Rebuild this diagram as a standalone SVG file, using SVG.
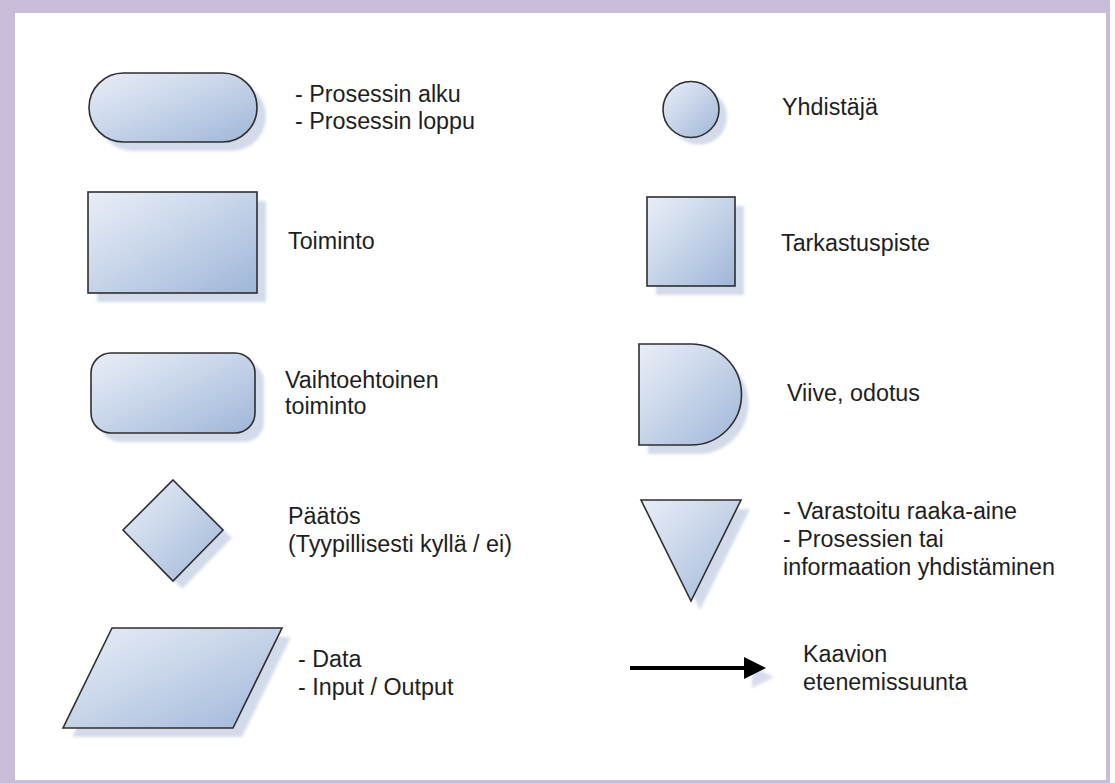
<svg xmlns="http://www.w3.org/2000/svg" width="1115" height="783" viewBox="0 0 1115 783">
  <style>
    .shape { fill: url(#fillGrad); stroke: #2e2e2e; stroke-width: 1.6; }
    .shadow { fill: #d3dbea; filter: url(#soft); }
    .label { font-family: "Liberation Sans", Arial, sans-serif; font-size: 23.3px; fill: #1e1e1e; }
  </style>
  <defs>
    <linearGradient id="fillGrad" x1="0" y1="0" x2="1" y2="1">
      <stop offset="0" stop-color="#e9eef7"/>
      <stop offset="0.45" stop-color="#c9d6ea"/>
      <stop offset="1" stop-color="#9fb6d8"/>
    </linearGradient>
    <filter id="soft" x="-10%" y="-10%" width="120%" height="120%">
      <feGaussianBlur stdDeviation="1.5"/>
    </filter>
  </defs>

  <!-- page frame -->
  <rect x="0" y="0" width="1115" height="783" fill="#fbfbfb"/>
  <rect x="0" y="0" width="1110" height="783" fill="#c9bcd9"/>
  <rect x="15" y="13" width="1091" height="767" fill="#ffffff"/>

  <!-- terminator -->
  <g id="terminator">
    <rect class="shadow" x="98" y="82" width="168" height="69" rx="34.5"/>
    <rect class="shape" x="89" y="73" width="168" height="69" rx="34.5"/>
    <text class="label" x="295" y="102">- Prosessin alku</text>
    <text class="label" x="295" y="129">- Prosessin loppu</text>
  </g>

  <!-- process -->
  <g id="process">
    <rect class="shadow" x="97" y="201" width="169" height="101"/>
    <rect class="shape" x="88" y="192" width="169" height="101"/>
    <text class="label" x="288" y="249">Toiminto</text>
  </g>

  <!-- alternate process -->
  <g id="alternate-process">
    <rect class="shadow" x="100" y="362" width="164" height="80" rx="20"/>
    <rect class="shape" x="91" y="353" width="164" height="80" rx="20"/>
    <text class="label" x="285" y="388">Vaihtoehtoinen</text>
    <text class="label" x="285" y="414">toiminto</text>
  </g>

  <!-- decision -->
  <g id="decision">
    <polygon class="shadow" points="182,488 232,538 182,589 132,538"/>
    <polygon class="shape" points="173,480 223,530 173,581 123,530"/>
    <text class="label" x="288" y="524">Päätös</text>
    <text class="label" x="288" y="552">(Tyypillisesti kyllä / ei)</text>
  </g>

  <!-- data -->
  <g id="data">
    <polygon class="shadow" points="121,637 291,637 242,737 72,737"/>
    <polygon class="shape" points="112,628 282,628 233,728 63,728"/>
    <text class="label" x="298" y="667">- Data</text>
    <text class="label" x="298" y="695">- Input / Output</text>
  </g>

  <!-- connector -->
  <g id="connector">
    <circle class="shadow" cx="699" cy="117" r="28"/>
    <circle class="shape" cx="691" cy="109.5" r="28"/>
    <text class="label" x="782" y="115">Yhdistäjä</text>
  </g>

  <!-- inspection -->
  <g id="inspection">
    <rect class="shadow" x="656" y="206" width="88" height="89"/>
    <rect class="shape" x="647" y="197" width="88" height="89"/>
    <text class="label" x="781" y="251">Tarkastuspiste</text>
  </g>

  <!-- delay -->
  <g id="delay">
    <path class="shadow" d="M648,353 H698 A50.5,50.5 0 0 1 698,454 H648 Z"/>
    <path class="shape" d="M639,344 H691 A50.5,50.5 0 0 1 691,445 H639 Z"/>
    <text class="label" x="787" y="401">Viive, odotus</text>
  </g>

  <!-- merge / storage -->
  <g id="merge">
    <polygon class="shadow" points="650,509 750,509 700,610"/>
    <polygon class="shape" points="641,500 741,500 691,601"/>
    <text class="label" x="783" y="519">- Varastoitu raaka-aine</text>
    <text class="label" x="783" y="547">- Prosessien tai</text>
    <text class="label" x="783" y="575">informaation yhdistäminen</text>
  </g>

  <!-- flow direction sample -->
  <g id="connectors">
    <line x1="640" y1="677" x2="762" y2="677" stroke="#d8dcee" stroke-width="4" filter="url(#soft)"/>
    <polygon points="752,666 774,677 752,688" fill="#d8dcee" filter="url(#soft)"/>
    <line x1="630" y1="668" x2="746" y2="668" stroke="#000000" stroke-width="4"/>
    <polygon points="744,657 766,668 744,679" fill="#000000"/>
  </g>
  <g id="flow-label">
    <text class="label" x="803" y="662">Kaavion</text>
    <text class="label" x="803" y="690">etenemissuunta</text>
  </g>
</svg>
